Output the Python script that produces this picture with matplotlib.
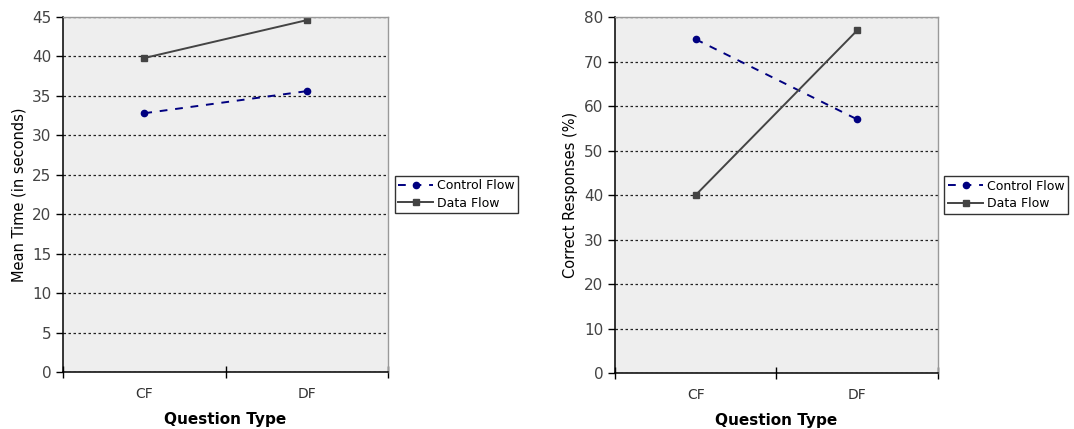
import matplotlib
matplotlib.use("Agg")
import matplotlib.pyplot as plt
from matplotlib.ticker import FixedLocator

categories = ["CF", "DF"]
series_names = ["Control Flow", "Data Flow"]

time_control = [32.8, 35.6]
time_data = [39.8, 44.6]

correct_control = [75, 57]
correct_data = [40, 77]

plt.rcParams["font.family"] = ["DejaVu Sans"]

fig = plt.figure(figsize=(10.74, 4.29), dpi=100)
ax1 = fig.add_axes([0.0587, 0.1329, 0.3026, 0.8275])
ax2 = fig.add_axes([0.5726, 0.1305, 0.3007, 0.8298])

def draw(ax, control, data, ymax, step, ylabel, legend_x):
    ax.set_facecolor("#eeeeee")
    xs = [0.5, 1.5]
    ax.plot(xs, control, color="#000080", linestyle=(0, (4, 4)), linewidth=1.4,
            marker="o", markersize=4.5, label=series_names[0])
    ax.plot(xs, data, color="#444444", linestyle="-", linewidth=1.4,
            marker="s", markersize=4.5, label=series_names[1])
    ax.set_xlim(0, 2)
    ax.set_ylim(0, ymax)
    ax.set_yticks(range(0, ymax + 1, step))
    ax.yaxis.grid(True, color="#222222", linestyle=(0, (2, 2)), linewidth=0.9)
    ax.set_axisbelow(True)
    ax.xaxis.set_major_locator(FixedLocator([0, 1, 2]))
    ax.xaxis.set_major_formatter(plt.NullFormatter())
    ax.xaxis.set_minor_locator(FixedLocator(xs))
    ax.set_xticklabels(categories, minor=True)
    ax.tick_params(axis="x", which="major", direction="inout", length=8, width=1)
    ax.tick_params(axis="x", which="minor", length=0, pad=11, labelsize=10, labelcolor="#333333")
    ax.tick_params(axis="y", direction="out", length=5, width=1, labelsize=11, labelcolor="#444444")
    for s in ("left", "bottom"):
        ax.spines[s].set_color("#000000")
        ax.spines[s].set_linewidth(1.1)
    for s in ("top", "right"):
        ax.spines[s].set_color("#999999")
        ax.spines[s].set_linewidth(1.0)
    ax.set_xlabel("Question Type", fontsize=11, fontweight="bold", labelpad=8)
    ax.set_ylabel(ylabel, fontsize=10.5, labelpad=4)
    leg = ax.legend(loc="center left", bbox_to_anchor=(legend_x, 0.5), frameon=True,
                    fancybox=False, edgecolor="#000000", fontsize=9,
                    handlelength=2.8, handletextpad=0.3, borderpad=0.3,
                    labelspacing=0.35, borderaxespad=0)
    leg.get_frame().set_linewidth(1.0)

draw(ax1, time_control, time_data, 45, 5, "Mean Time (in seconds)", 1.02)
draw(ax2, correct_control, correct_data, 80, 10, "Correct Responses (%)", 1.02)

fig.savefig("out.png", dpi=100)
